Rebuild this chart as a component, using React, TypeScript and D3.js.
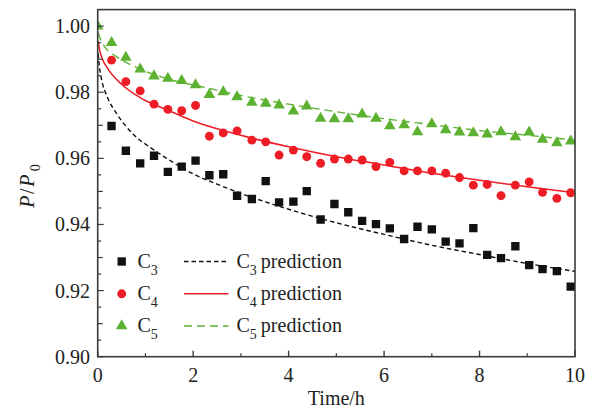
import React from "react";
import * as d3 from "d3";

// Sampling times (h)
const hours = [0, 0.29, 0.59, 0.89, 1.18, 1.47, 1.76, 2.05, 2.34, 2.63, 2.92, 3.23, 3.52, 3.80, 4.10, 4.38, 4.67, 4.96, 5.25, 5.54, 5.83, 6.12, 6.42, 6.70, 7.00, 7.29, 7.58, 7.87, 8.16, 8.45, 8.75, 9.04, 9.32, 9.62, 9.91];

// Measured P/P0 (C3 and C4 start at the second sample)
const c3 = [0.9698, 0.9623, 0.9585, 0.9608, 0.9559, 0.9575, 0.9593, 0.9549, 0.9552, 0.9487, 0.9477, 0.9531, 0.9467, 0.9469, 0.9501, 0.9415, 0.9462, 0.9437, 0.9411, 0.9401, 0.9388, 0.9356, 0.9393, 0.9385, 0.9348, 0.9343, 0.9389, 0.9308, 0.9298, 0.9334, 0.9277, 0.9265, 0.9259, 0.9212];
const c4 = [0.9897, 0.9832, 0.9804, 0.9764, 0.9748, 0.9744, 0.9760, 0.9667, 0.9677, 0.9683, 0.9655, 0.9650, 0.9610, 0.9625, 0.9605, 0.9585, 0.9598, 0.9598, 0.9595, 0.9575, 0.9588, 0.9562, 0.9562, 0.9562, 0.9555, 0.9542, 0.9519, 0.9521, 0.9487, 0.9519, 0.9529, 0.9497, 0.9479, 0.9496];
const c5 = [1.000, 0.9950, 0.9905, 0.9870, 0.9849, 0.9842, 0.9835, 0.9822, 0.9793, 0.9801, 0.9786, 0.9769, 0.9766, 0.9761, 0.9743, 0.9758, 0.9721, 0.9719, 0.9719, 0.9734, 0.9721, 0.9698, 0.9701, 0.9680, 0.9704, 0.9686, 0.9679, 0.9677, 0.9673, 0.9680, 0.9665, 0.9679, 0.9657, 0.9647, 0.9652];

// Prediction curves
const c3PredT = [0.01, 0.03, 0.08, 0.2, 0.4, 0.75, 1.13, 1.5, 2, 2.5, 3, 4, 5, 6, 7, 8, 9, 10];
const c3PredY = [0.9918, 0.9885, 0.984, 0.9786, 0.9735, 0.9672, 0.963, 0.9595, 0.9553, 0.9522, 0.9494, 0.9446, 0.9405, 0.937, 0.9337, 0.9309, 0.9282, 0.9258];
const c4PredT = [0.01, 0.05, 0.1, 0.2, 0.5, 1, 1.5, 2, 3, 4, 5, 6, 7, 8, 9, 10];
const c4PredY = [0.9955, 0.9922, 0.99, 0.9874, 0.9824, 0.9775, 0.9744, 0.9713, 0.967, 0.9635, 0.9605, 0.958, 0.9555, 0.9534, 0.9514, 0.9496];
const c5PredT = [0.01, 0.05, 0.15, 0.4, 0.8, 1.5, 2.2, 3, 4, 5, 6, 7, 8, 9, 10];
const c5PredY = [0.998, 0.9963, 0.9937, 0.9907, 0.9876, 0.9839, 0.9816, 0.979, 0.9764, 0.9741, 0.972, 0.9702, 0.9684, 0.967, 0.9655];

const xTicks = [0, 2, 4, 6, 8, 10];
const yTicks = [0.9, 0.92, 0.94, 0.96, 0.98, 1.0];

const W = 594;
const H = 419;
const M = { left: 97.7, right: 19, top: 9.6, bottom: 62.3 };

const BLACK = "#111111";
const RED = "#ee1c24";
const GREEN = "#5db131";
const AXIS = "#3a3a3a";
const FONT = "Times New Roman";

export default function App() {
  const x = d3.scaleLinear().domain([0, 10]).range([M.left, W - M.right]);
  const y = d3.scaleLinear().domain([0.9, 1.005]).range([H - M.bottom, M.top]);
  const x0 = x(0), x1 = x(10), yb = y(0.9), yt = M.top;

  const line = d3
    .line<[number, number]>()
    .x((d) => x(d[0]))
    .y((d) => y(d[1]))
    .curve(d3.curveMonotoneX);

  const zip = (ts: number[], vs: number[]) => ts.map((t, i) => [t, vs[i]] as [number, number]);

  const sq = d3.symbol().type(d3.symbolSquare).size(70)()!;
  const circ = d3.symbol().type(d3.symbolCircle).size(62)()!;
  const tri = d3.symbol().type(d3.symbolTriangle).size(58)()!;

  const minorX = d3.range(1, 10, 2);
  const yAll = d3.range(0, 21).map((i) => +(0.9 + i * 0.005).toFixed(3));

  const legendRows = [
    { sub: "3", sym: sq, color: BLACK, dash: "4.5,3", y: 261.5 },
    { sub: "4", sym: circ, color: RED, dash: "", y: 293.8 },
    { sub: "5", sym: tri, color: GREEN, dash: "8,5", y: 326 },
  ];

  const txt = { fontFamily: FONT } as React.CSSProperties;

  return (
    <svg width={W} height={H} style={{ position: "absolute", left: 0, top: 0, background: "#fff" }}>
      <defs>
        <clipPath id="plotArea">
          <rect x={x0} y={yt} width={x1 - x0} height={yb - yt} />
        </clipPath>
      </defs>
      <rect width={W} height={H} fill="#fff" />

      {/* prediction curves */}
      <g clipPath="url(#plotArea)">
        <path d={line(zip(c3PredT, c3PredY))!} fill="none" stroke={BLACK} strokeWidth={1.4} strokeDasharray="4.5,3" />
        <path d={line(zip(c4PredT, c4PredY))!} fill="none" stroke={RED} strokeWidth={1.5} />
        <path d={line(zip(c5PredT, c5PredY))!} fill="none" stroke={GREEN} strokeWidth={1.4} strokeDasharray="8,5" />

        {/* measured points */}
        {c3.map((v, i) => (
          <path key={"a" + i} d={sq} transform={`translate(${x(hours[i + 1])},${y(v)})`} fill={BLACK} />
        ))}
        {c4.map((v, i) => (
          <path key={"b" + i} d={circ} transform={`translate(${x(hours[i + 1])},${y(v)})`} fill={RED} />
        ))}
        {c5.map((v, i) => (
          <path key={"c" + i} d={tri} transform={`translate(${x(hours[i])},${y(v)})`} fill={GREEN} />
        ))}
      </g>

      {/* frame */}
      <rect x={x0} y={yt} width={x1 - x0} height={yb - yt} fill="none" stroke={AXIS} strokeWidth={1.6} />

      {/* x ticks */}
      {xTicks.map((t) => (
        <g key={"xt" + t}>
          <line x1={x(t)} x2={x(t)} y1={yb} y2={yb - 6} stroke={AXIS} strokeWidth={1.4} />
          <text x={x(t)} y={382} textAnchor="middle" fontSize={20} fill="#222" style={txt}>
            {t}
          </text>
        </g>
      ))}
      {minorX.map((t) => (
        <line key={"xm" + t} x1={x(t)} x2={x(t)} y1={yb} y2={yb - 3.5} stroke={AXIS} strokeWidth={1.2} />
      ))}

      {/* y ticks */}
      {yAll.map((v, i) => (
        <line key={"ym" + i} x1={x0} x2={x0 + (i % 4 === 0 ? 6 : i % 2 === 0 ? 5 : 3.5)} y1={y(v)} y2={y(v)} stroke={AXIS} strokeWidth={1.2} />
      ))}
      {yTicks.map((v) => (
        <text key={"yt" + v} x={90} y={y(v) + 7} textAnchor="end" fontSize={20} fill="#222" style={txt}>
          {v.toFixed(2)}
        </text>
      ))}

      {/* axis titles */}
      <text x={(x0 + x1) / 2} y={405} textAnchor="middle" fontSize={20} fill="#222" style={txt}>
        Time/h
      </text>
      <text transform={`translate(34,${(yt + yb) / 2 + 2}) rotate(-90)`} textAnchor="middle" fontSize={20} fill="#222" letterSpacing={1.5} style={txt}>
        <tspan fontStyle="italic">P</tspan>
        <tspan>/</tspan>
        <tspan fontStyle="italic">P</tspan>
        <tspan fontSize={14} dy={6} dx={2}>0</tspan>
      </text>

      {/* legend */}
      {legendRows.map((r) => (
        <g key={"lg" + r.sub}>
          <path d={r.sym} transform={`translate(121.7,${r.y})`} fill={r.color} />
          <text x={137.5} y={r.y + 6} fontSize={20} fill="#222" style={txt}>
            C<tspan fontSize={14} dy={7}>{r.sub}</tspan>
          </text>
          <line x1={184} x2={228.5} y1={r.y} y2={r.y} stroke={r.color} strokeWidth={1.4} strokeDasharray={r.dash || undefined} />
          <text x={236.5} y={r.y + 6} fontSize={20} fill="#222" style={txt}>
            C<tspan fontSize={14} dy={7}>{r.sub}</tspan>
            <tspan dy={-7} dx={4}>prediction</tspan>
          </text>
        </g>
      ))}
    </svg>
  );
}
